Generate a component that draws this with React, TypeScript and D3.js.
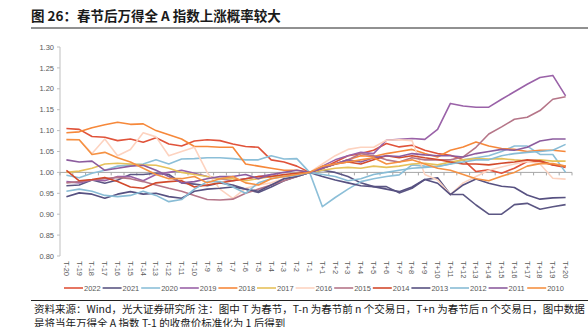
import React from "react";
import * as d3 from "d3";

const labels: string[] = [
  ...d3.range(20, 0, -1).map((n) => `T-${n}`),
  ...d3.range(1, 21).map((n) => `T+${n}`),
];

const years = ["2022","2021","2020","2019","2018","2017","2016","2015","2014","2013","2012","2011","2010"];
const colors = ["#e0533a","#5b5683","#8cbfd8","#9a62a8","#f6883a","#e6c15a","#fdd3c0","#b57588","#d24a2c","#575181","#88bcd5","#8c5c9e","#f59142"];

const s2022 = [1.105,1.103,1.086,1.084,1.076,1.080,1.072,1.083,1.068,1.063,1.075,1.078,1.076,1.068,1.062,1.060,1.030,1.025,1.015,1.000,
  1.010,1.025,1.040,1.045,1.053,1.069,1.061,1.065,1.053,1.045,1.041,1.030,1.002,1.006,0.998,1.010,1.026,1.026,1.018,1.012];
const s2021 = [0.968,0.970,0.982,0.974,0.982,0.995,0.995,0.998,0.995,0.975,0.972,0.968,0.975,0.970,0.960,0.952,0.965,0.980,0.990,1.000,
  1.005,1.000,0.990,0.975,0.966,0.966,0.951,0.962,0.983,0.987,0.947,0.947,0.922,0.900,0.900,0.923,0.926,0.912,0.918,0.923];
const s2020 = [0.993,0.987,0.998,1.005,1.015,1.018,1.020,1.030,1.020,1.032,1.033,1.035,1.035,1.033,1.030,1.030,1.040,1.032,1.033,1.000,
  0.918,0.940,0.960,0.978,0.985,0.990,0.994,1.018,1.015,1.014,1.020,1.030,1.035,1.040,1.050,1.063,1.063,1.043,1.043,1.000];
const s2019 = [0.978,0.975,0.982,0.980,0.990,0.990,0.980,0.995,1.000,1.005,0.998,0.990,0.985,0.980,0.985,0.990,0.995,0.990,0.995,1.000,
  1.015,1.030,1.040,1.048,1.045,1.077,1.079,1.081,1.079,1.103,1.165,1.159,1.156,1.156,1.175,1.193,1.211,1.227,1.232,1.183];
const s2018 = [1.095,1.097,1.107,1.114,1.120,1.115,1.116,1.100,1.090,1.080,1.062,1.062,1.060,1.060,1.020,1.015,1.010,1.005,1.005,1.000,
  1.010,1.020,1.030,1.040,1.038,1.045,1.050,1.055,1.045,1.037,1.053,1.061,1.073,1.063,1.057,1.055,1.050,1.053,1.053,1.050];
const s2017 = [1.000,1.003,1.010,1.020,1.022,1.020,1.018,1.017,1.010,1.000,0.995,0.990,0.985,0.985,0.980,0.985,0.990,0.992,0.995,1.000,
  1.005,1.010,1.012,1.010,1.015,1.012,1.015,1.020,1.022,1.018,1.025,1.030,1.033,1.032,1.033,1.030,1.028,1.030,1.027,1.027];
const s2016 = [1.080,1.078,1.045,1.080,1.040,1.055,1.095,1.085,1.040,1.050,1.060,1.000,0.960,0.938,0.962,0.970,0.975,0.985,0.990,1.000,
  1.020,1.040,1.055,1.060,1.060,1.077,1.078,1.076,0.995,0.982,0.947,0.975,0.990,1.005,1.013,1.020,1.026,1.020,0.986,0.984];
const s2015 = [0.975,0.978,0.982,0.985,0.988,0.985,0.978,0.970,0.962,0.955,0.945,0.935,0.934,0.936,0.950,0.960,0.970,0.980,0.990,1.000,
  1.010,1.020,1.030,1.045,1.040,1.030,1.025,1.035,1.030,1.030,1.030,1.037,1.060,1.092,1.109,1.127,1.132,1.148,1.175,1.181];
const s2014 = [1.005,0.980,0.983,0.988,0.978,0.965,0.962,0.975,0.978,0.980,0.965,0.970,0.975,0.980,0.985,0.990,0.990,0.995,0.998,1.000,
  1.010,1.020,1.025,1.020,1.030,1.040,1.035,1.040,1.035,1.031,1.025,1.020,1.020,1.018,1.022,1.025,1.030,1.028,1.018,1.015];
const s2013 = [0.942,0.951,0.948,0.938,0.948,0.954,0.948,0.950,0.942,0.938,0.955,0.960,0.962,0.965,0.960,0.955,0.970,0.985,0.990,1.000,
  0.990,0.982,0.975,0.968,0.966,0.960,0.954,0.965,0.983,0.974,0.947,0.970,0.984,0.974,0.967,0.964,0.946,0.936,0.939,0.940];
const s2012 = [0.955,0.960,0.955,0.945,0.942,0.945,0.955,0.945,0.930,0.935,0.960,0.978,0.978,0.965,0.950,0.975,0.985,0.990,0.993,1.000,
  0.995,0.990,0.980,0.985,0.995,1.000,1.005,1.010,1.012,1.014,1.020,1.025,1.030,1.030,1.040,1.045,1.048,1.050,1.053,1.067];
const s2011 = [1.030,1.025,1.027,1.005,1.010,1.015,1.017,1.005,0.990,0.975,0.978,0.985,0.990,0.990,0.995,0.985,0.995,1.000,1.005,1.000,
  1.010,1.020,1.030,1.025,1.035,1.040,1.038,1.045,1.042,1.040,1.040,1.037,1.045,1.050,1.055,1.053,1.060,1.075,1.080,1.080];
const s2010 = [1.078,1.078,1.043,1.048,1.035,1.025,1.010,0.995,0.985,0.985,0.990,0.975,0.985,0.990,0.975,0.970,0.985,0.990,0.995,1.000,
  1.015,1.020,1.025,1.030,1.035,1.020,1.025,1.030,1.020,1.010,1.005,0.995,0.985,0.980,0.991,1.000,1.015,1.021,1.021,1.015];

const series = [s2022,s2021,s2020,s2019,s2018,s2017,s2016,s2015,s2014,s2013,s2012,s2011,s2010];
const yTicks = [0.8,0.85,0.9,0.95,1.0,1.05,1.1,1.15,1.2,1.25,1.3];

const W = 588, H = 327;
const left = 60, right = 572, top = 47, bottom = 256;

export default function App() {
  const x = d3.scaleBand<string>().domain(labels).range([left, right]);
  const bw = x.bandwidth();
  const cx = (l: string) => (x(l) as number) + bw / 2;
  const y = d3.scaleLinear().domain([0.8, 1.3]).range([bottom, top]);
  const line = d3.line<number>().x((_, i) => cx(labels[i])).y((d) => y(d));
  const axisFont = "'Liberation Sans', Arial, sans-serif";
  const cjk = "'Noto Sans CJK SC', sans-serif";
  const legendStep = 38.6;
  return (
    <svg width={W} height={H} style={{ position: "absolute", left: 0, top: 0, background: "#fff" }}>
      <text x={31} y={21} fontFamily={cjk} fontSize={13.5} fontWeight={700} fill="#1a1a1a">
        图 26：春节后万得全 A 指数上涨概率较大
      </text>
      <line x1={31} x2={588} y1={28} y2={28} stroke="#222" strokeWidth={1} />
      <line x1={left} x2={left} y1={top} y2={bottom} stroke="#bfbfbf" />
      {yTicks.map((t) => (
        <g key={t}>
          <line x1={left - 3} x2={left} y1={y(t)} y2={y(t)} stroke="#bfbfbf" />
          <text x={54} y={y(t)} dy="0.35em" textAnchor="end" fontFamily={axisFont} fontSize={7.5} fill="#595959">
            {t.toFixed(2)}
          </text>
        </g>
      ))}
      <line x1={left} x2={right} y1={y(1)} y2={y(1)} stroke="#a6a6a6" />
      {labels.map((l) => (
        <line key={"tk" + l} x1={x(l) as number} x2={x(l) as number} y1={y(1)} y2={y(1) + 3} stroke="#a6a6a6" />
      ))}
      <line x1={right} x2={right} y1={y(1)} y2={y(1) + 3} stroke="#a6a6a6" />
      {labels.map((l) => (
        <text key={l} transform={`translate(${cx(l)},${bottom + 5}) rotate(90)`} dy="0.35em"
          fontFamily={axisFont} fontSize={7.5} fill="#595959">{l}</text>
      ))}
      {series.map((s, k) => (
        <path key={years[k]} d={line(s) as string} fill="none" stroke={colors[k]} strokeWidth={1.6} strokeLinejoin="round" />
      ))}
      {years.map((yr, k) => (
        <g key={"lg" + yr} transform={`translate(${64 + k * legendStep},288)`}>
          <line x1={0} x2={19} y1={0} y2={0} stroke={colors[k]} strokeWidth={1.6} />
          <text x={20} y={0} dy="0.35em" fontFamily={axisFont} fontSize={7.5} fill="#595959">{yr}</text>
        </g>
      ))}
      <line x1={31} x2={588} y1={300.5} y2={300.5} stroke="#222" strokeWidth={1} />
      <text x={34} y={313} fontFamily={cjk} fontSize={10.5} fill="#1a1a1a">
        资料来源：Wind，光大证券研究所 注：图中 T 为春节，T-n 为春节前 n 个交易日，T+n 为春节后 n 个交易日，图中数据
      </text>
      <text x={34} y={326.5} fontFamily={cjk} fontSize={10.5} fill="#1a1a1a">
        是将当年万得全 A 指数 T-1 的收盘价标准化为 1 后得到
      </text>
    </svg>
  );
}
